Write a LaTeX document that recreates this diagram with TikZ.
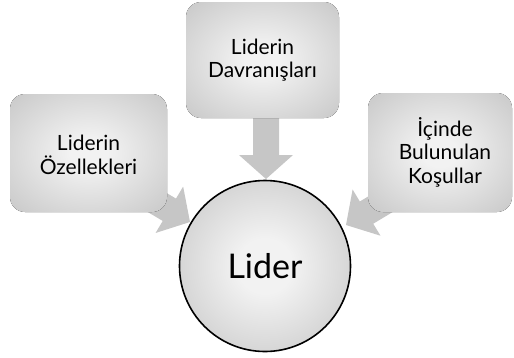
\documentclass[tikz,border=0pt]{standalone}
\usepackage{fontspec}
\setmainfont{Lato}
\usetikzlibrary{calc}
\definecolor{bxin}{HTML}{F2F2F2}
\definecolor{bxout}{HTML}{B4B4B4}
\definecolor{bxcorner}{HTML}{A8A8A8}
\definecolor{ciin}{HTML}{F2F2F2}
\definecolor{ciout}{HTML}{ADADAD}
\definecolor{arrowgray}{HTML}{C6C6C6}
\pgfdeclareradialshading{boxshade}{\pgfpoint{0bp}{0bp}}{color(0bp)=(bxin); color(6bp)=(bxin); color(50bp)=(bxout); color(71bp)=(bxcorner)}
\pgfdeclareradialshading{circshade}{\pgfpoint{0bp}{0bp}}{color(0bp)=(ciin); color(8bp)=(ciin); color(50bp)=(ciout)}
\tikzset{
  box/.style={rounded corners=15pt, shading=boxshade, inner sep=0pt},
  boxtext/.style={align=center, font=\fontsize{21}{23.5}\selectfont, text=black},
  hub/.style={circle, draw=black, line width=1.6pt, shading=circshade, minimum size=171pt, inner sep=0pt,
     font=\fontsize{34}{38}\selectfont},
  blockarrow/.pic={
    \fill[arrowgray] (0,0) -- (-24,27) -- (-24,13) -- (-#1,13) -- (-#1,-13) -- (-24,-13) -- (-24,-27) -- cycle;
  }
}
\begin{document}
\begin{tikzpicture}[x=1pt,y=-1pt]
\useasboundingbox (0,0) rectangle (514,357);
% arrow tips
\coordinate (tT) at (266,179);
\coordinate (tL) at (190,222);
\coordinate (tR) at (346,225);
% block arrows
\pic[rotate=-90] at (tT) {blockarrow=70};
\pic[rotate=-30.7] at (tL) {blockarrow=68};
\pic[rotate=-148.9] at (tR) {blockarrow=68};
% boxes
\fill[box] (186,2) rectangle (339,118);
\fill[box] (10,94) rectangle (167,212);
\fill[box] (368,93) rectangle (512,212);
\node[boxtext] (dav) at (262.5,60) {Liderin\\Davranışları};
\node[boxtext] (oz) at (88.5,155) {Liderin\\Özellekleri};
\node[boxtext] (kos) at (445,152) {İçinde\\Bulunulan\\Koşullar};
% hub
\node[hub] (lider) at (265,266) {Lider};
\end{tikzpicture}
\end{document}
